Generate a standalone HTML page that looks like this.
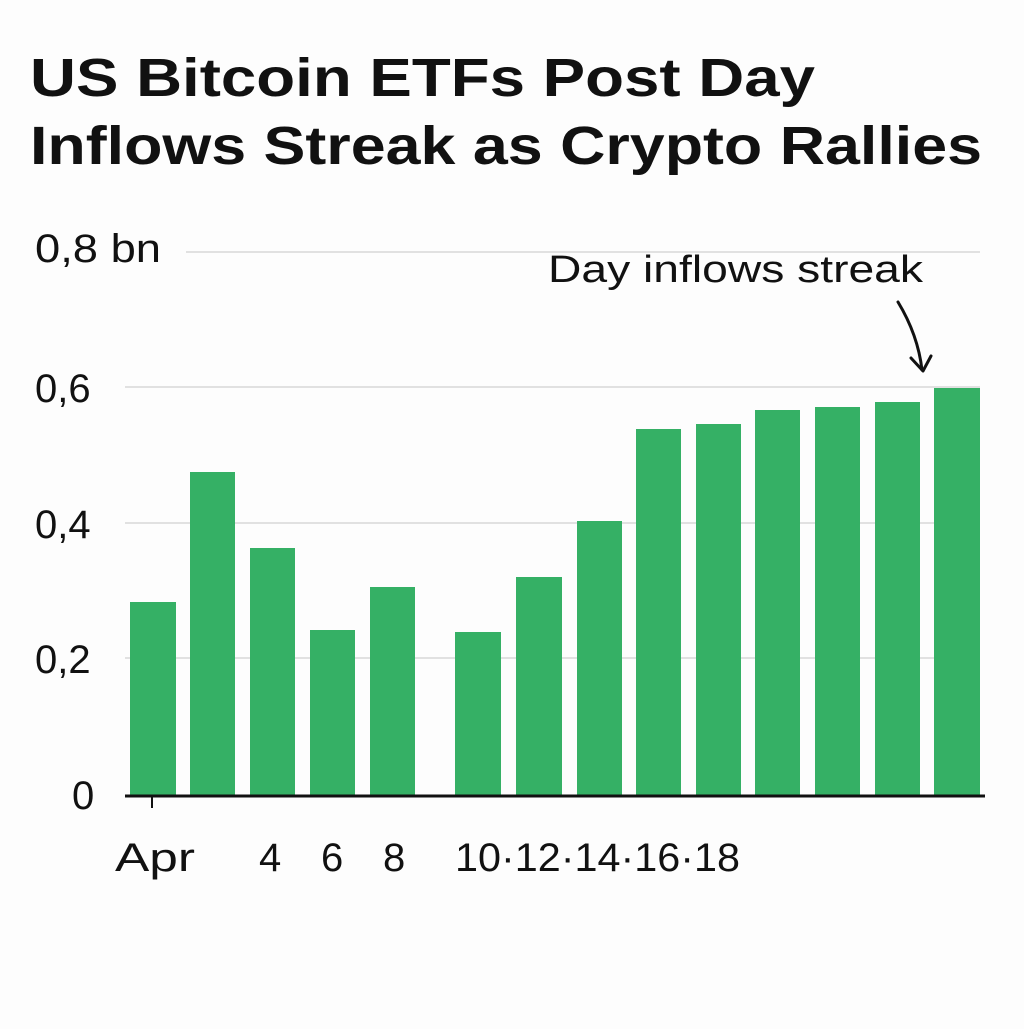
<!DOCTYPE html>
<html><head><meta charset="utf-8"><style>body{margin:0;background:#fdfdfd}</style></head>
<body>
<svg width="1024" height="1024" viewBox="0 0 1024 1024" xmlns="http://www.w3.org/2000/svg" font-family="Liberation Sans, sans-serif">
<rect width="1024" height="1024" fill="#fdfdfd"/>
<text x="30" y="96" font-size="54" font-weight="bold" fill="#111" textLength="785" lengthAdjust="spacingAndGlyphs">US Bitcoin ETFs Post Day</text>
<text x="30" y="164" font-size="54" font-weight="bold" fill="#111" textLength="952" lengthAdjust="spacingAndGlyphs">Inflows Streak as Crypto Rallies</text>
<g stroke="#d8d8d8" stroke-width="1.5">
<line x1="186" y1="252" x2="980" y2="252"/>
<line x1="125" y1="387" x2="980" y2="387"/>
<line x1="125" y1="523" x2="980" y2="523"/>
<line x1="125" y1="658" x2="980" y2="658"/>
</g>
<g font-size="40" fill="#111">
<text x="35" y="262" textLength="126" lengthAdjust="spacingAndGlyphs">0,8 bn</text>
<text x="35" y="402">0,6</text>
<text x="35" y="538">0,4</text>
<text x="35" y="673">0,2</text>
<text x="72" y="809">0</text>
</g>
<g fill="#35b065">
<rect x="130" y="602" width="46" height="194"/>
<rect x="190" y="472" width="45" height="324"/>
<rect x="250" y="548" width="45" height="248"/>
<rect x="310" y="630" width="45" height="166"/>
<rect x="370" y="587" width="45" height="209"/>
<rect x="455" y="632" width="46" height="164"/>
<rect x="516" y="577" width="46" height="219"/>
<rect x="577" y="521" width="45" height="275"/>
<rect x="636" y="429" width="45" height="367"/>
<rect x="696" y="424" width="45" height="372"/>
<rect x="755" y="410" width="45" height="386"/>
<rect x="815" y="407" width="45" height="389"/>
<rect x="875" y="402" width="45" height="394"/>
<rect x="934" y="388" width="46" height="408"/>
</g>
<line x1="125" y1="796" x2="985" y2="796" stroke="#111" stroke-width="3"/>
<line x1="152" y1="796" x2="152" y2="808" stroke="#111" stroke-width="2"/>
<g font-size="40" fill="#111">
<text x="115" y="871" textLength="80" lengthAdjust="spacingAndGlyphs">Apr</text>
<text x="259" y="871">4</text>
<text x="321" y="871">6</text>
<text x="383" y="871">8</text>
<text x="455" y="871" textLength="285" lengthAdjust="spacingAndGlyphs">10·12·14·16·18</text>
</g>
<text x="548" y="282" font-size="38" fill="#111" textLength="375" lengthAdjust="spacingAndGlyphs">Day inflows streak</text>
<path d="M898,302 Q918,335 922,370" fill="none" stroke="#111" stroke-width="3" stroke-linecap="round"/>
<path d="M911,358 L923,371 L931,356" fill="none" stroke="#111" stroke-width="3" stroke-linecap="round" stroke-linejoin="round"/>
</svg>
</body></html>
